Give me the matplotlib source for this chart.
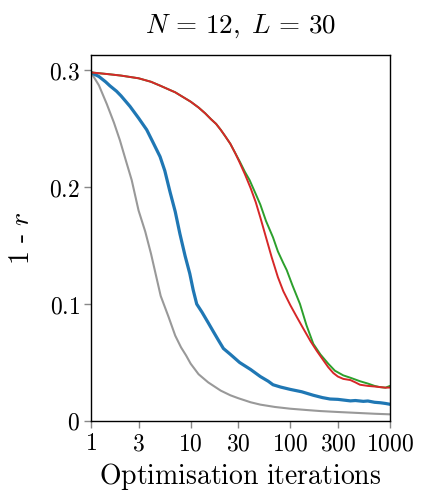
import matplotlib
matplotlib.use("Agg")
import matplotlib.pyplot as plt
from matplotlib.ticker import FixedLocator, FixedFormatter, NullLocator

plt.rcParams['mathtext.fontset'] = 'cm'
plt.rcParams['font.family'] = ['DejaVu Serif']

# ---- data ----
gray_x = [1, 1.2, 1.44, 1.7, 1.95, 2.25, 2.56, 3, 3.5, 4, 5, 6, 7, 8, 9, 10, 12, 15, 20,
          25, 30, 40, 50, 70, 100, 150, 200, 300, 500, 700, 1000]
gray_y = [0.298, 0.287, 0.271, 0.255, 0.240, 0.222, 0.206, 0.180, 0.162, 0.143, 0.107,
          0.089, 0.073, 0.063, 0.056, 0.049, 0.040, 0.033, 0.026, 0.022, 0.0195, 0.016,
          0.014, 0.012, 0.0105, 0.0093, 0.0085, 0.0077, 0.0068, 0.0062, 0.0057]

blue_x = [1, 1.2, 1.4, 1.55, 1.8, 2, 2.46, 3, 3.62, 4.2, 4.93, 5.5, 6.2, 7, 7.8, 8.8,
          9.8, 10.6, 11.5, 13, 15, 17, 19, 21.3, 25, 31, 40, 50, 60, 67, 80, 100, 130,
          170, 210, 250, 300, 350, 400, 450, 540, 600, 700, 800, 900, 1000]
blue_y = [0.298, 0.2945, 0.290, 0.2865, 0.282, 0.278, 0.269, 0.259, 0.249, 0.238,
          0.226, 0.214, 0.196, 0.179, 0.160, 0.141, 0.126, 0.112, 0.100, 0.093, 0.084,
          0.076, 0.069, 0.062, 0.057, 0.050, 0.044, 0.038, 0.034, 0.031, 0.029, 0.027,
          0.025, 0.022, 0.020, 0.0188, 0.0185, 0.0178, 0.0172, 0.0175, 0.0168, 0.0171,
          0.0160, 0.0156, 0.0150, 0.0143]

red_x = [1, 1.5, 2, 3, 4, 5, 6, 7, 8, 10, 12, 14, 16, 18, 20, 22, 25, 28, 31, 35, 40,
         45, 50, 57, 65, 75, 85, 100, 116, 135, 160, 184, 210, 240, 270, 300, 340, 400,
         450, 500, 600, 700, 790, 900, 1000]
red_y = [0.298, 0.2965, 0.2953, 0.293, 0.290, 0.2865, 0.2835, 0.281, 0.278, 0.273,
         0.268, 0.263, 0.258, 0.254, 0.249, 0.244, 0.237, 0.229, 0.221, 0.211, 0.199,
         0.187, 0.174, 0.157, 0.140, 0.123, 0.111, 0.099, 0.089, 0.079, 0.068, 0.060,
         0.053, 0.046, 0.041, 0.038, 0.036, 0.035, 0.033, 0.031, 0.030, 0.0295, 0.029,
         0.0285, 0.0286]

green_x = [1, 1.5, 2, 3, 4, 5, 6, 7, 8, 10, 12, 14, 16, 18, 20, 22, 25, 28, 31, 35, 39,
           45, 50, 57, 67, 75, 85, 92, 105, 125, 145, 170, 200, 240, 280, 340, 400, 500,
           600, 700, 790, 900, 1000]
green_y = [0.298, 0.2965, 0.2953, 0.293, 0.290, 0.2865, 0.2835, 0.281, 0.278, 0.273,
           0.268, 0.263, 0.258, 0.254, 0.249, 0.244, 0.237, 0.229, 0.222, 0.213, 0.206,
           0.194, 0.185, 0.171, 0.157, 0.145, 0.135, 0.129, 0.116, 0.100, 0.082, 0.066,
           0.057, 0.049, 0.043, 0.039, 0.037, 0.034, 0.032, 0.030, 0.029, 0.0285, 0.030]

xticks = [1, 3, 10, 30, 100, 300, 1000]
xtick_labels = ['$1$', '$3$', '$10$', '$30$', '$100$', '$300$', '$1000$']
yticks = [0, 0.1, 0.2, 0.3]
ytick_labels = ['$0$', '$0.1$', '$0.2$', '$0.3$']

# ---- plot ----
fig = plt.figure(figsize=(4.21, 5.04), dpi=100)
ax = fig.add_axes([91/421, 83/504, 299/421, 366/504])

ax.plot(gray_x, gray_y, color='#999999', lw=1.5)
ax.plot(blue_x, blue_y, color='#1f77b4', lw=2.3)
ax.plot(green_x, green_y, color='#2ca02c', lw=1.4)
ax.plot(red_x, red_y, color='#d62728', lw=1.4)

ax.set_xscale('log')
ax.set_xlim(1, 1000)
ax.set_ylim(0, 0.3129)
ax.xaxis.set_major_locator(FixedLocator(xticks))
ax.xaxis.set_major_formatter(FixedFormatter(xtick_labels))
ax.xaxis.set_minor_locator(NullLocator())
ax.yaxis.set_major_locator(FixedLocator(yticks))
ax.yaxis.set_major_formatter(FixedFormatter(ytick_labels))

ax.tick_params(axis='both', which='major', direction='out', length=5, width=1,
               color='#888888', labelsize=17, pad=3)
for s in ax.spines.values():
    s.set_color('black')
    s.set_linewidth(1.0)

ax.set_xlabel(r'$\mathrm{Optimisation\ iterations}$', fontsize=20, labelpad=4)
ax.set_ylabel(r'$\mathrm{1\ \text{-}\ }r$', fontsize=20, labelpad=10)
ax.set_title(r'$N\,=\,12,\;L\,=\,30$', fontsize=19.5, pad=16)

fig.savefig('out.png', dpi=100)
